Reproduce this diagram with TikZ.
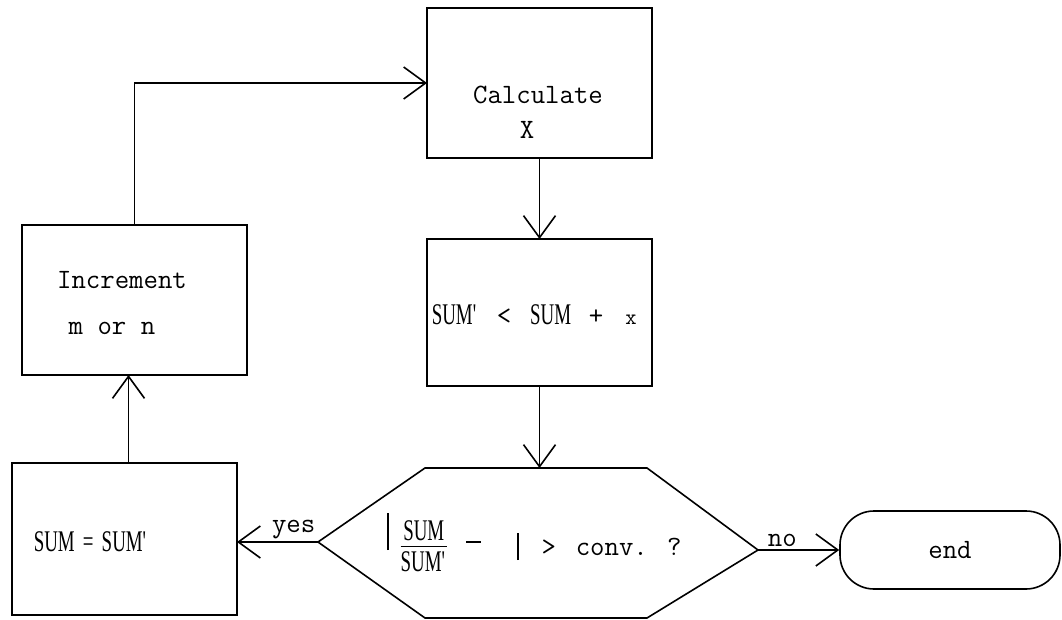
\documentclass[tikz,border=0pt]{standalone}
\usepackage{fontspec}
\usetikzlibrary{arrows.meta}
\newfontfamily\sumfont[FakeStretch=0.63]{Liberation Serif}
\newcommand\twf{\ttfamily\fontsize{28}{32}\selectfont}
\newcommand\sumf{\sumfont\fontsize{30}{32}\selectfont}
\begin{document}
\begin{tikzpicture}[x=1pt,y=-1pt,line width=1.6pt,
  >={Straight Barb[length=22pt,width=32pt,line width=1.6pt]},
  box/.style={draw, inner sep=0pt, outer sep=0pt},
  lbl/.style={inner sep=0pt, font=\twf}]
\useasboundingbox[fill=white] (0,0) rectangle (1062,620);
% boxes
\node[box, minimum width=225pt, minimum height=150pt] (calc) at (539.5,83) {};
\node[box, minimum width=225pt, minimum height=147pt] (sump) at (539.5,312.5) {};
\node[box, minimum width=225pt, minimum height=150pt] (incr) at (134.5,300) {};
\node[box, minimum width=225pt, minimum height=152pt] (sumeq) at (124.5,539) {};
\node[draw, rounded corners=34pt, minimum width=220pt, minimum height=78pt, inner sep=0pt, font=\twf] (end) at (950,550) {end};
% hexagon
\coordinate (hTL) at (425,468);
\coordinate (hTR) at (647,468);
\coordinate (hR) at (758,550);
\coordinate (hBR) at (647,618);
\coordinate (hBL) at (425,618);
\coordinate (hL) at (318,542);
\draw (hTL) -- (hTR) -- (hR) -- (hBR) -- (hBL) -- (hL) -- cycle;
% texts
\node[lbl] (tcalc) at (538,95) {Calculate};
\node[lbl] (tX) at (527,130) {X};
\node[lbl] (tinc) at (122,280) {Increment};
\node[lbl] (tmn) at (112,328) {m or n};
\node[anchor=base west, inner sep=0pt] (tsum) at (431,324)
  {{\sumf SUM\textquotesingle}%
   \makebox[52pt][c]{\twf <}%
   {\sumf SUM}%
   \makebox[50pt][c]{\twf +}%
   \makebox[20pt][c]{\ttfamily\fontsize{22}{24}\selectfont x}};
\node[anchor=base west, inner sep=0pt] (teq) at (33,551)
  {{\sumf SUM}\makebox[27pt][c]{\sumf =}{\sumf SUM\textquotesingle}};
\node[anchor=base west, inner sep=0pt] (tq) at (380,555)
  {\makebox[14pt][c]{\rule[5pt]{1.6pt}{37pt}}%
   \makebox[58pt][c]{\raisebox{6pt}{$\displaystyle{\mbox{\sumf SUM}\above 1.5pt \mbox{\sumf SUM\textquotesingle}}$}}%
   \makebox[42pt][c]{\rule[12pt]{15pt}{2pt}}%
   \makebox[46pt][c]{\rule[-5pt]{1.6pt}{27pt}}%
   \makebox[16pt][c]{\twf >}%
   \hspace{19pt}{\twf conv. ?}};
% connectors
\draw[->] (calc.south) -- (sump.north);
\draw[->] (sump.south) -- (sump.south |- hTL);
\draw[->] (hL) -- (sumeq.east |- hL) node[pos=0.3, above=-1pt, font=\twf] (yes) {yes};
\draw[->] (hR) -- (end.west |- hR) node[pos=0.3, above=-1pt, font=\twf] (no) {no};
\draw[->] ([xshift=4pt]sumeq.north) -- ([xshift=4pt]sumeq.north |- incr.south);
\draw[->] (incr.north) |- (calc.west);
\end{tikzpicture}
\end{document}
